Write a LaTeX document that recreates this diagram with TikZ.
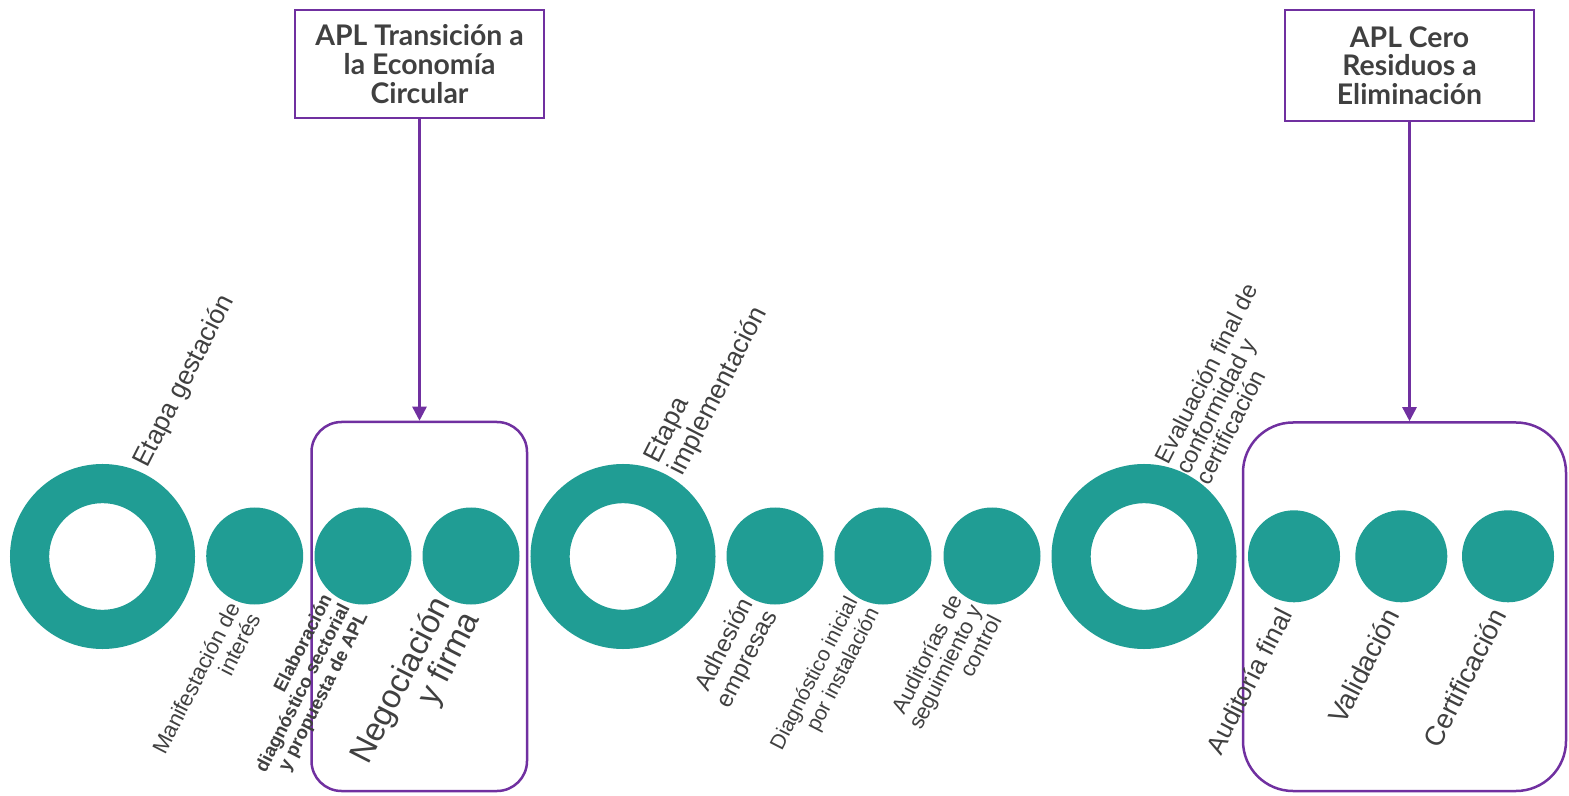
\documentclass[tikz,border=0pt]{standalone}
\usepackage{fontspec}
\setmainfont{Liberation Sans}
\newfontfamily\titlefont{Lato}
\usetikzlibrary{arrows.meta}
\definecolor{aplteal}{RGB}{32,157,148}
\definecolor{aplpurple}{RGB}{112,48,160}
\definecolor{apltext}{RGB}{64,64,64}
\begin{document}
\begin{tikzpicture}[x=0.5pt,y=-0.5pt,
  stagering/.style={circle,draw=aplteal,line width=19.6pt,minimum size=72.9pt,inner sep=0pt},
  stepdot/.style={circle,fill=aplteal,minimum size=48.5pt,inner sep=0pt},
  stepdotsm/.style={stepdot,minimum size=46pt},
  steplab/.style={text=apltext,rotate=63,inner sep=0pt},
  groupbox/.style={draw=aplpurple,line width=1.25pt,rounded corners=#1,inner sep=0pt},
  aplbox/.style={draw=aplpurple,line width=1.25pt,text=apltext,align=center,
    font=\titlefont\bfseries\fontsize{14.2}{14.3}\selectfont,minimum width=124.5pt,inner sep=0pt},
  aplarrow/.style={draw=aplpurple,line width=1.25pt,-{Triangle[length=7pt,width=7pt]}}]
\useasboundingbox (0,0) rectangle (1569,796);
\node[groupbox=15pt,minimum width=107.75pt,minimum height=184.5pt] (negbox) at (419.25,606.5) {};
\node[groupbox=25pt,minimum width=161.5pt,minimum height=184.25pt] (finbox) at (1404.5,606.75) {};
\node[aplbox,minimum height=54pt] (apltec) at (419.5,64) {APL Transición a\\la Economía\\Circular};
\node[aplbox,minimum height=55.5pt] (aplcero) at (1409.5,65.5) {APL Cero\\Residuos a\\Eliminación};
\draw[aplarrow] (apltec) -- (apltec |- negbox.north);
\draw[aplarrow] (aplcero) -- (aplcero |- finbox.north);
% etapa gestacion
\node[stagering] (gest) at (102.5,556.5) {};
\node[stepdot] (manif) at (254.7,556) {};
\node[stepdot] (elab) at (363,556) {};
\node[stepdot] (negoc) at (471,556) {};
% etapa implementacion
\node[stagering] (impl) at (623,556.5) {};
\node[stepdot] (adhes) at (775,556) {};
\node[stepdot] (diagn) at (883,556) {};
\node[stepdot] (audit) at (992,556) {};
% evaluacion final
\node[stagering] (evalu) at (1144,556.5) {};
\node[stepdotsm] (audfin) at (1294,556.3) {};
\node[stepdotsm] (valid) at (1401.3,556.3) {};
\node[stepdotsm] (certif) at (1508,556.3) {};
\node[steplab,anchor=south west,font=\fontsize{13.2}{15}\selectfont] (gestlab) at (153,472) {Etapa gestación};
\node[steplab,anchor=south west,align=left,font=\fontsize{13.2}{14}\selectfont] (impllab) at (688,480) {Etapa\\implementación};
\node[steplab,anchor=south west,align=left,font=\fontsize{11.8}{11.5}\selectfont] (evallab) at (1210,487) {Evaluación final de\\conformidad y\\certificación};
\node[steplab,anchor=east,align=right,font=\fontsize{11}{11.5}\selectfont] (maniflab) at (244,609) {Manifestación de\\interés};
\node[steplab,anchor=east,align=right,font=\bfseries\fontsize{9.3}{10}\selectfont] (elablab) at (346,605) {Elaboración\\diagnóstico sectorial\\y propuesta de APL};
\node[steplab,anchor=east,align=right,font=\fontsize{16.5}{16.5}\selectfont] (negoclab) at (458,607) {Negociación\\y firma};
\node[steplab,anchor=east,align=right,font=\fontsize{12}{13.5}\selectfont] (adheslab) at (760,606) {Adhesión\\empresas};
\node[steplab,anchor=east,align=right,font=\fontsize{10.5}{12}\selectfont] (diagnlab) at (864,604) {Diagnóstico inicial\\por instalación};
\node[steplab,anchor=east,align=right,font=\fontsize{11}{11}\selectfont] (auditlab) at (976,606) {Auditorías de\\seguimiento y\\control};
\node[steplab,anchor=east,font=\fontsize{13}{15}\selectfont] (audfinlab) at (1285,610) {Auditoría final};
\node[steplab,anchor=east,font=\fontsize{13.7}{16}\selectfont] (validlab) at (1392,610) {Validación};
\node[steplab,anchor=east,font=\fontsize{13.7}{16}\selectfont] (certiflab) at (1499,610) {Certificación};
\end{tikzpicture}
\end{document}
